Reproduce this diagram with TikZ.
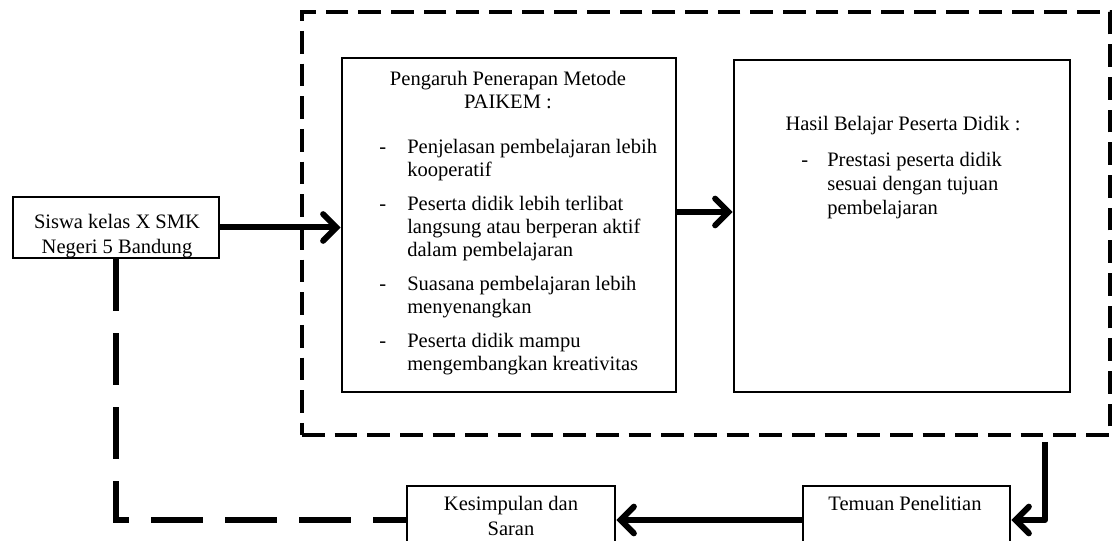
\documentclass[tikz,border=0pt]{standalone}
\usepackage{fontspec}
\setmainfont{Liberation Serif}
\usetikzlibrary{arrows.meta,fit,calc}
\begin{document}
\begin{tikzpicture}[x=0.75pt,y=-0.75pt,
  box/.style={draw, line width=1.9pt, inner sep=0pt, fill=white},
  outerbox/.style={draw, line width=2.3pt, dash pattern=on 17pt off 7.5pt, inner sep=0pt},
  txt/.style={inner sep=0pt, anchor=base, font=\fontsize{15.4pt}{18pt}\selectfont},
  txtl/.style={txt, anchor=base west},
  arr/.style={line width=4.5pt, line join=round, -{Straight Barb[length=10pt,width=20pt,line cap=round]}},
  bigdash/.style={line width=4.5pt, dash pattern=on 39pt off 16.5pt}]
\useasboundingbox (0,0) rectangle (1115,541);
\clip (0,0) rectangle (1115,541);
\fill[white] (0,0) rectangle (1115,541);

% outer dashed frame
\node[outerbox, fit={(302,12) (1110,435)}] (outer) {};

% boxes
\node[box, fit={(13,197) (219,258)}] (siswa) {};
\node[box, fit={(342,58) (676,392)}] (paikem) {};
\node[box, fit={(734,60) (1070,392)}] (hasil) {};
\node[box, fit={(803,486) (1010,554)}] (temuan) {};
\node[box, fit={(407,486) (615,554)}] (kesimpulan) {};

% siswa text
\node[txt] (s1) at (117,229) {Siswa kelas X SMK};
\node[txt] (s2) at (117,254) {Negeri 5 Bandung};

% paikem text
\node[txt] (p1) at (508,86) {Pengaruh Penerapan Metode};
\node[txt] (p2) at (508,109) {PAIKEM :};
\node[txtl] (d1) at (379,154) {-};
\node[txtl] (i1) at (407,154) {Penjelasan pembelajaran lebih};
\node[txtl] (i1b) at (407,177) {kooperatif};
\node[txtl] (d2) at (379,211) {-};
\node[txtl] (i2) at (407,211) {Peserta didik lebih terlibat};
\node[txtl] (i2b) at (407,234) {langsung atau berperan aktif};
\node[txtl] (i2c) at (407,257) {dalam pembelajaran};
\node[txtl] (d3) at (379,291) {-};
\node[txtl] (i3) at (407,291) {Suasana pembelajaran lebih};
\node[txtl] (i3b) at (407,314) {menyenangkan};
\node[txtl] (d4) at (379,348) {-};
\node[txtl] (i4) at (407,348) {Peserta didik mampu};
\node[txtl] (i4b) at (407,371) {mengembangkan kreativitas};

% hasil text
\node[txt] (h1) at (903,131) {Hasil Belajar Peserta Didik :};
\node[txtl] (hd) at (801,167) {-};
\node[txtl] (h2) at (827,167) {Prestasi peserta didik};
\node[txtl] (h3) at (827,191) {sesuai dengan tujuan};
\node[txtl] (h4) at (827,215) {pembelajaran};

% bottom texts
\node[txt] (t1) at (905,511) {Temuan Penelitian};
\node[txt] (k1) at (511,511) {Kesimpulan dan};
\node[txt] (k2) at (511,536) {Saran};

% connectors
\draw[arr] (siswa.east) -- (siswa.east -| paikem.west);
\coordinate (a2) at (700,212);
\draw[arr] (a2 -| paikem.east) -- (a2 -| hasil.west);
\coordinate (tstart) at (1045,442);
\draw[arr] (tstart) |- (temuan.east);
\draw[arr] (temuan.west) -- (kesimpulan.east);
\draw[bigdash] (siswa.south) |- (kesimpulan.west);
\end{tikzpicture}
\end{document}
